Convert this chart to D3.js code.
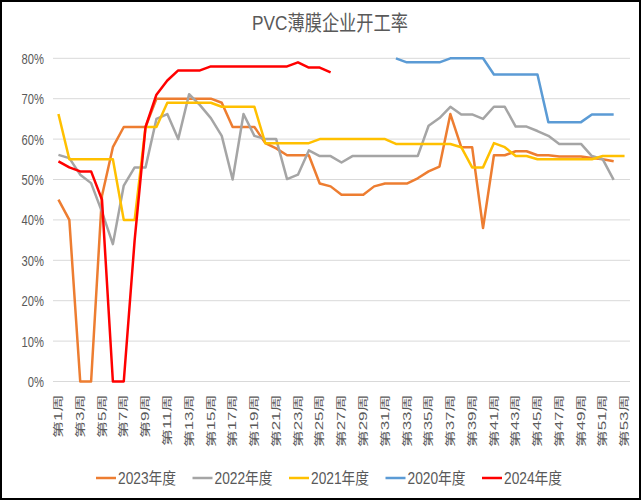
<!DOCTYPE html>
<html><head><meta charset="utf-8">
<script src="https://cdn.jsdelivr.net/npm/d3@7"></script>
<style>
html,body{margin:0;padding:0;background:#fff;}
text{font-family:"Liberation Sans","Noto Sans CJK SC",sans-serif;fill:#595959;}
</style></head>
<body><svg id="c" width="642" height="500"></svg>
<script>
const title = "PVC薄膜企业开工率";
const weeks = d3.range(1, 54).map(w => `第${w}周`);
const yTicks = [0, 10, 20, 30, 40, 50, 60, 70, 80];
const seriesNames = ["2023年度", "2022年度", "2021年度", "2020年度", "2024年度"];
const seriesColors = ["#ED7D31", "#A5A5A5", "#FFC000", "#5B9BD5", "#FF0000"];

const s2023 = [45,40,0,0,46,58,63,63,63,70, 70,70,70,70,70,69,63,63,63,59, 57.7,56,56,56,49,48.3,46.2,46.2,46.2,48.3, 49,49,49,50.3,52,53.2,66.2,58,58,38, 56,56,57,57,56,56,55.7,55.7,55.7,55.3, 55,54.5,null];
const s2022 = [56.1,55.3,51.2,49.1,42,34,48.5,53,53,65, 66.2,60,71.1,68.4,65.2,60.8,50,66.2,60.8,60, 60,50.1,51.2,57.2,55.8,55.8,54.2,55.8,55.8,55.8, 55.8,55.8,55.8,55.8,63.3,65.2,68,66.1,66.1,65, 68,68,63.1,63.1,62,60.8,58.8,58.8,58.8,55.8, 55,49.9,null];
const s2021 = [66.2,55,55,55,55,55,40,40,63,63, 69,69,69,69,69,68,68,68,68,59, 59,59,59,59,60,60,60,60,60,60, 60,58.8,58.8,58.8,58.8,58.8,58.8,58,53,53, 59,58,55.8,55.8,55,55,55,55,55,55, 55.8,55.8,55.8];
const s2020 = [null,null,null,null,null,null,null,null,null,null, null,null,null,null,null,null,null,null,null,null, null,null,null,null,null,null,null,null,null,null, null,80,79,79,79,79,80,80,80,80, 76,76,76,76,76,64.2,64.2,64.2,64.2,66.1, 66.1,66.1,null];
const s2024 = [54.5,53,52,52,45,0,0,35,63,71, 74.5,77,77,77,78,78,78,78,78,78, 78,78,79,77.7,77.7,76.5,null,null,null,null, null,null,null,null,null,null,null,null,null,null, null,null,null,null,null,null,null,null,null,null, null,null,null];
const seriesValues = [s2023, s2022, s2021, s2020, s2024];

const FONT = '"Liberation Sans","Noto Sans CJK SC",sans-serif';
const svg = d3.select("#c");
svg.append("rect").attr("x",0).attr("y",0).attr("width",642).attr("height",500).attr("fill","#fff");
svg.append("rect").attr("x",1).attr("y",1).attr("width",639).attr("height",498)
  .attr("fill","none").attr("stroke","#000").attr("stroke-width",2);

const x = d3.scaleBand().domain(weeks).range([53, 630]);
const y = d3.scaleLinear().domain([0, 80]).range([381.5, 58.3]);

// title
svg.append("text").attr("text-anchor","middle")
  .attr("transform","translate(330,30) scale(0.82,1)")
  .style("font-size","21px").text(title);

// gridlines
svg.append("g").selectAll("line").data(yTicks).join("line")
  .attr("x1", 53).attr("x2", 630)
  .attr("y1", d => y(d)).attr("y2", d => y(d))
  .attr("stroke", "#D9D9D9").attr("stroke-width", 1);

// y axis
const yAxis = svg.append("g").attr("transform","translate(44,0)")
  .call(d3.axisLeft(y).tickValues(yTicks).tickFormat(d => d + "%").tickSize(0).tickPadding(0));
yAxis.select(".domain").remove();
yAxis.selectAll(".tick text")
  .attr("x", 0).attr("dy","0.35em")
  .attr("transform","scale(0.8,1)")
  .style("font-size","14px").style("fill","#595959").style("font-family",FONT);

// x axis
const xAxis = svg.append("g").attr("transform","translate(0,381.5)")
  .call(d3.axisBottom(x).tickValues(weeks.filter((d,i) => i % 2 === 0)).tickSize(0));
xAxis.select(".domain").remove();
xAxis.selectAll(".tick text")
  .attr("x", 0).attr("y", 0).attr("dy", "0.35em")
  .attr("text-anchor","end")
  .attr("transform","translate(0,13) scale(0.62,1) rotate(-90)")
  .style("font-size","17px").style("fill","#595959").style("font-family",FONT);

// lines
const line = d3.line()
  .defined(d => d != null)
  .x((d, i) => x(weeks[i]) + x.bandwidth() / 2)
  .y(d => y(d));
svg.append("g").selectAll("path").data(seriesValues).join("path")
  .attr("d", d => line(d))
  .attr("fill","none")
  .attr("stroke", (d, i) => seriesColors[i])
  .attr("stroke-width", 2.5)
  .attr("stroke-linejoin","round");

// legend
const lg = svg.append("g");
seriesNames.forEach((n, i) => {
  const lx = 96 + i * 96.5;
  lg.append("line").attr("x1", lx).attr("x2", lx + 20).attr("y1", 478).attr("y2", 478)
    .attr("stroke", seriesColors[i]).attr("stroke-width", 2.5);
  lg.append("text").attr("transform", `translate(${lx + 22},484) scale(0.86,1)`)
    .style("font-size","16px").text(n);
});
</script></body></html>
